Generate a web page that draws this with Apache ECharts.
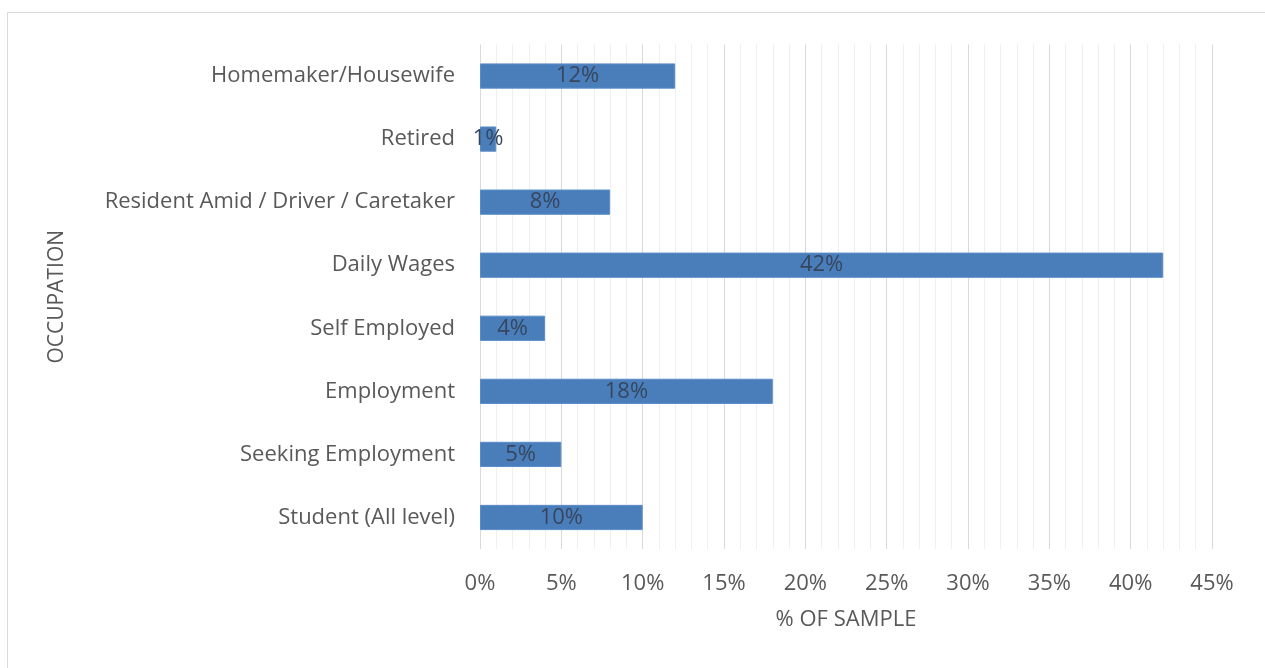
<!DOCTYPE html>
<html>
<head>
<meta charset="utf-8">
<script src="https://cdn.jsdelivr.net/npm/echarts@6/dist/echarts.min.js"></script>
<style>
  html, body { margin: 0; padding: 0; background: #ffffff; }
  #chart { width: 1265px; height: 668px; }
</style>
</head>
<body>
<div id="chart"></div>
<script>
// Occupation categories, bottom to top as drawn on the category axis
const categories = [
  'Student (All level)',
  'Seeking Employment',
  'Employment',
  'Self Employed',
  'Daily Wages',
  'Resident Amid / Driver / Caretaker',
  'Retired',
  'Homemaker/Housewife'
];
// Share of sample, in percent
const shares = [10, 5, 18, 4, 42, 8, 1, 12];
// Value axis range and step (percent)
const axisMin = 0;
const axisMax = 45;
const axisStep = 5;

const font = '"Open Sans", "Noto Sans", sans-serif';
const textGrey = '#595959';

const chart = echarts.init(document.getElementById('chart'), null, { renderer: 'canvas' });

chart.setOption({
  animation: false,
  backgroundColor: '#ffffff',
  textStyle: { fontFamily: font },
  graphic: [{
    type: 'rect',
    shape: { x: 7.5, y: 12.5, width: 1300, height: 700 },
    style: { fill: 'none', stroke: '#d9d9d9', lineWidth: 1 },
    silent: true
  }],
  grid: { left: 480, right: 53, top: 44.5, bottom: 119, containLabel: false },
  xAxis: {
    type: 'value',
    min: axisMin,
    max: axisMax,
    interval: axisStep,
    name: '% OF SAMPLE',
    nameLocation: 'middle',
    nameGap: 60,
    nameTextStyle: { color: textGrey, fontSize: 22, fontFamily: font },
    axisLine: { show: false },
    axisTick: { show: false },
    axisLabel: {
      color: textGrey, fontSize: 22, fontFamily: font, margin: 24,
      formatter: v => v + '%'
    },
    splitLine: { show: true, lineStyle: { color: '#d9d9d9', width: 1 } },
    minorTick: { show: false, splitNumber: 5 },
    minorSplitLine: { show: true, lineStyle: { color: '#efefef', width: 1 } }
  },
  yAxis: {
    type: 'category',
    data: categories,
    name: 'OCCUPATION',
    nameLocation: 'middle',
    nameGap: 412,
    nameRotate: 90,
    nameTextStyle: { color: textGrey, fontSize: 21, fontFamily: font },
    axisLine: { show: false },
    axisTick: { show: false },
    axisLabel: { color: textGrey, fontSize: 22, fontFamily: font, margin: 25 },
    splitLine: { show: false }
  },
  series: [{
    type: 'bar',
    data: shares,
    barCategoryGap: '60%',
    itemStyle: { color: '#4a7ebb', borderColor: '#5b8cc8', borderWidth: 1 },
    label: {
      show: true,
      position: 'inside',
      color: '#36465e',
      fontSize: 22,
      fontFamily: font,
      formatter: p => p.value + '%'
    }
  }]
});
</script>
</body>
</html>
